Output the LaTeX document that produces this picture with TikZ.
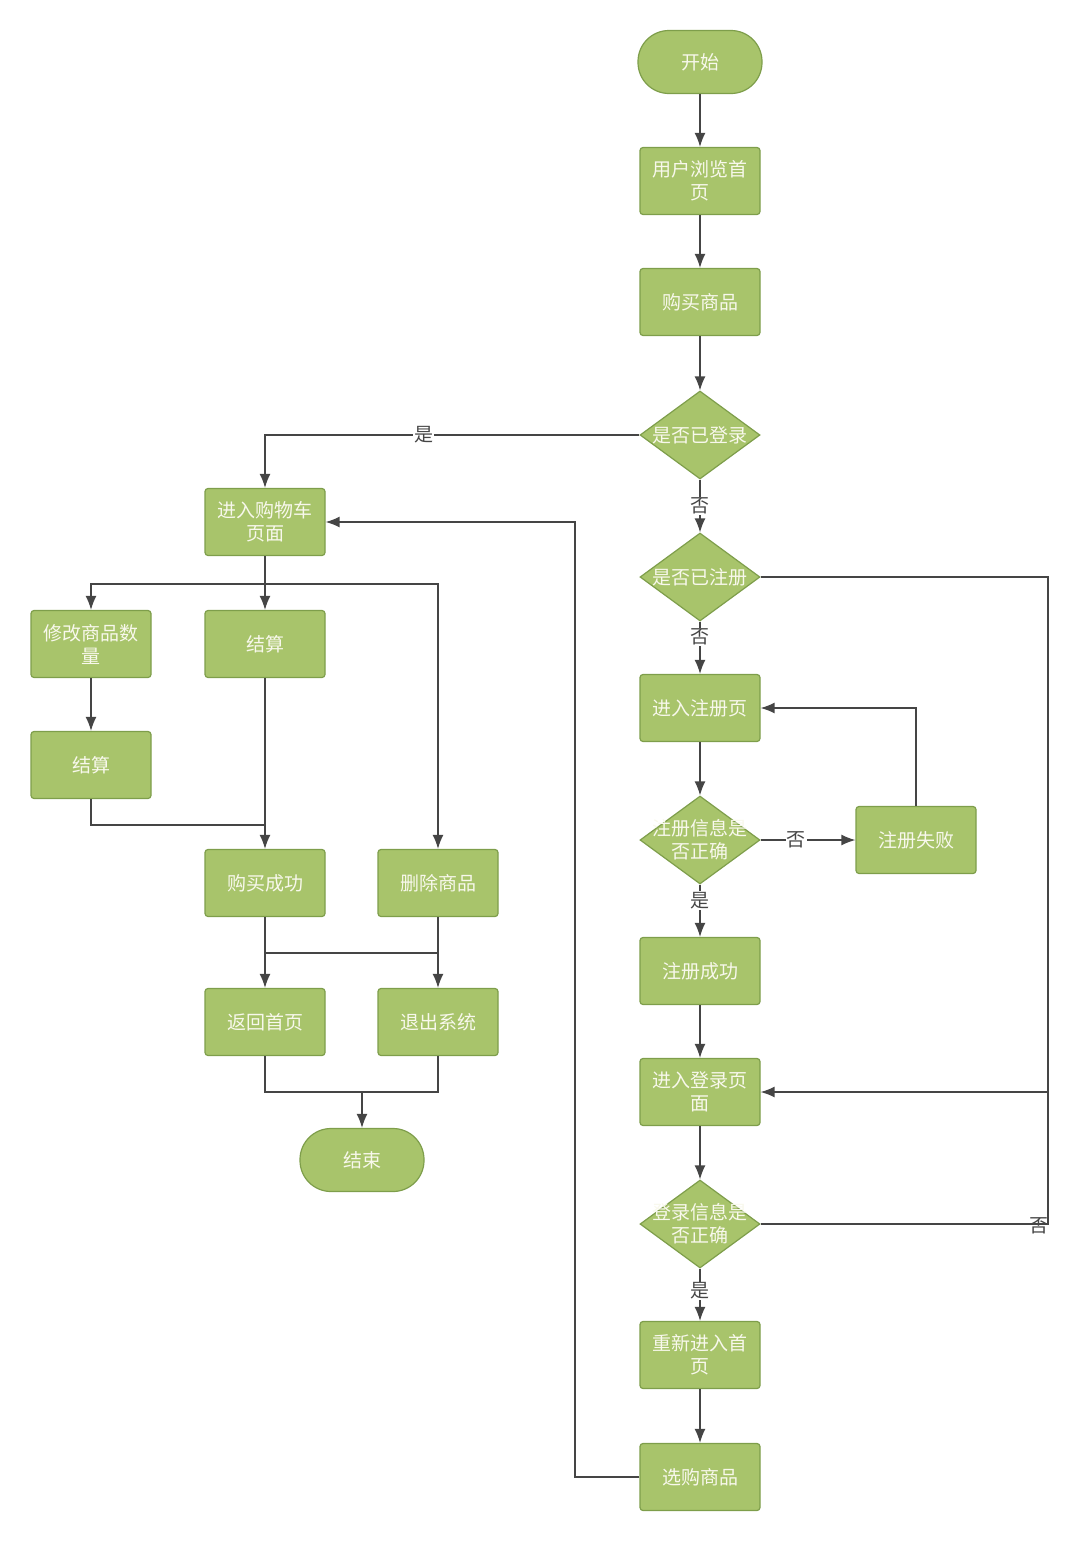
\documentclass[tikz,border=0pt]{standalone}
\usepackage{fontspec}
\newfontfamily\cjk{Noto Sans CJK SC}
\usetikzlibrary{shapes.geometric,arrows.meta}
\definecolor{gr}{HTML}{A8C46B}
\definecolor{bd}{HTML}{7E9E4B}
\definecolor{tx}{HTML}{F8F8EC}
\definecolor{ln}{HTML}{454545}
\newcommand{\nodefont}{\cjk\fontsize{19}{23}\selectfont}
\tikzset{
  box/.style={draw=bd, fill=gr, rounded corners=3, minimum width=120, minimum height=67,
    align=center, font=\nodefont, text=tx, line width=1.2, inner sep=0},
  term/.style={draw=bd, fill=gr, rounded corners=31, minimum width=124, minimum height=63,
    align=center, font=\nodefont, text=tx, line width=1.2, inner sep=0},
  dec/.style={draw=bd, fill=gr, diamond, minimum width=120, minimum height=88, inner sep=0,
    line width=1.2},
  dtext/.style={font=\nodefont, text=tx, align=center},
  conn/.style={draw=ln, line width=1.4},
  arr/.style={conn, -{Latex[length=14,width=11]}},
  lab/.style={font=\nodefont, text=ln, fill=white, inner sep=1},
}
\begin{document}
\begin{tikzpicture}[x=1pt,y=-1pt]
\useasboundingbox (0,0) rectangle (1080,1542);
% right column
\node[term] (start) at (700,62) {开始};
\node[box] (browse) at (700,181) {用户浏览首\\页};
\node[box] (buy) at (700,302) {购买商品};
\node[dec] (login) at (700,435) {};
\node[dtext] at (login.center) {是否已登录};
\node[dec] (reg) at (700,577) {};
\node[dtext] at (reg.center) {是否已注册};
\node[box] (regpage) at (700,708) {进入注册页};
\node[dec] (reginfo) at (700,840) {};
\node[dtext] at (reginfo.center) {注册信息是\\否正确};
\node[box] (regfail) at (916,840) {注册失败};
\node[box] (regok) at (700,971) {注册成功};
\node[box] (loginpage) at (700,1092) {进入登录页\\面};
\node[dec] (logininfo) at (700,1224) {};
\node[dtext] at (logininfo.center) {登录信息是\\否正确};
\node[box] (rehome) at (700,1355) {重新进入首\\页};
\node[box] (pick) at (700,1477) {选购商品};
% left part
\node[box] (cart) at (265,522) {进入购物车\\页面};
\node[box] (modify) at (91,644) {修改商品数\\量};
\node[box] (settle1) at (265,644) {结算};
\node[box] (settle2) at (91,765) {结算};
\node[box] (buyok) at (265,883) {购买成功};
\node[box] (delete) at (438,883) {删除商品};
\node[box] (back) at (265,1022) {返回首页};
\node[box] (exit) at (438,1022) {退出系统};
\node[term] (end) at (362,1160) {结束};
% junction coordinates
\coordinate (rjoin) at (1048,1092);
\coordinate (cjoin) at (575,522);
\coordinate (cb) at (265,584);
\coordinate (sj) at (265,825);
\coordinate (m2) at (438,953);
\coordinate (ej) at (362,1092);
% right connectors
\draw[arr] (start) -- (browse);
\draw[arr] (browse) -- (buy);
\draw[arr] (buy) -- (login);
\draw[arr] (login.west) -| node[lab,pos=0.288] {是} (cart.north);
\draw[arr] (login.south) -- node[lab] {否} (reg.north);
\draw[arr] (reg.south) -- node[lab,pos=0.3] {否} (regpage.north);
\draw[arr] (reg.east) -| (rjoin) -- (loginpage.east);
\draw[arr] (regpage) -- (reginfo);
\draw[arr] (reginfo.east) -- node[lab,pos=0.375] {否} (regfail.west);
\draw[arr] (regfail.north) |- (regpage.east);
\draw[arr] (reginfo.south) -- node[lab,pos=0.3] {是} (regok.north);
\draw[arr] (regok) -- (loginpage);
\draw[arr] (loginpage) -- (logininfo);
\draw[conn] (logininfo.east) -| node[lab,pos=0.485,fill=none,yshift=-2] {否} (rjoin);
\draw[arr] (logininfo.south) -- node[lab,pos=0.43] {是} (rehome.north);
\draw[arr] (rehome) -- (pick);
\draw[arr] (pick.west) -| (cjoin) -- (cart.east);
% left connectors
\draw[conn] (cart.south) -- (cb);
\draw[arr] (cb) -| (modify.north);
\draw[arr] (cb) -- (settle1.north);
\draw[arr] (cb) -| (delete.north);
\draw[arr] (modify) -- (settle2);
\draw[conn] (settle2.south) |- (sj);
\draw[arr] (settle1.south) -- (buyok.north);
\draw[arr] (buyok) -- (back);
\draw[arr] (delete) -- (exit);
\draw[conn] (buyok.south) |- (m2);
\draw[arr] (back.south) |- (ej) -- (end.north);
\draw[conn] (exit.south) |- (ej);
\end{tikzpicture}
\end{document}
